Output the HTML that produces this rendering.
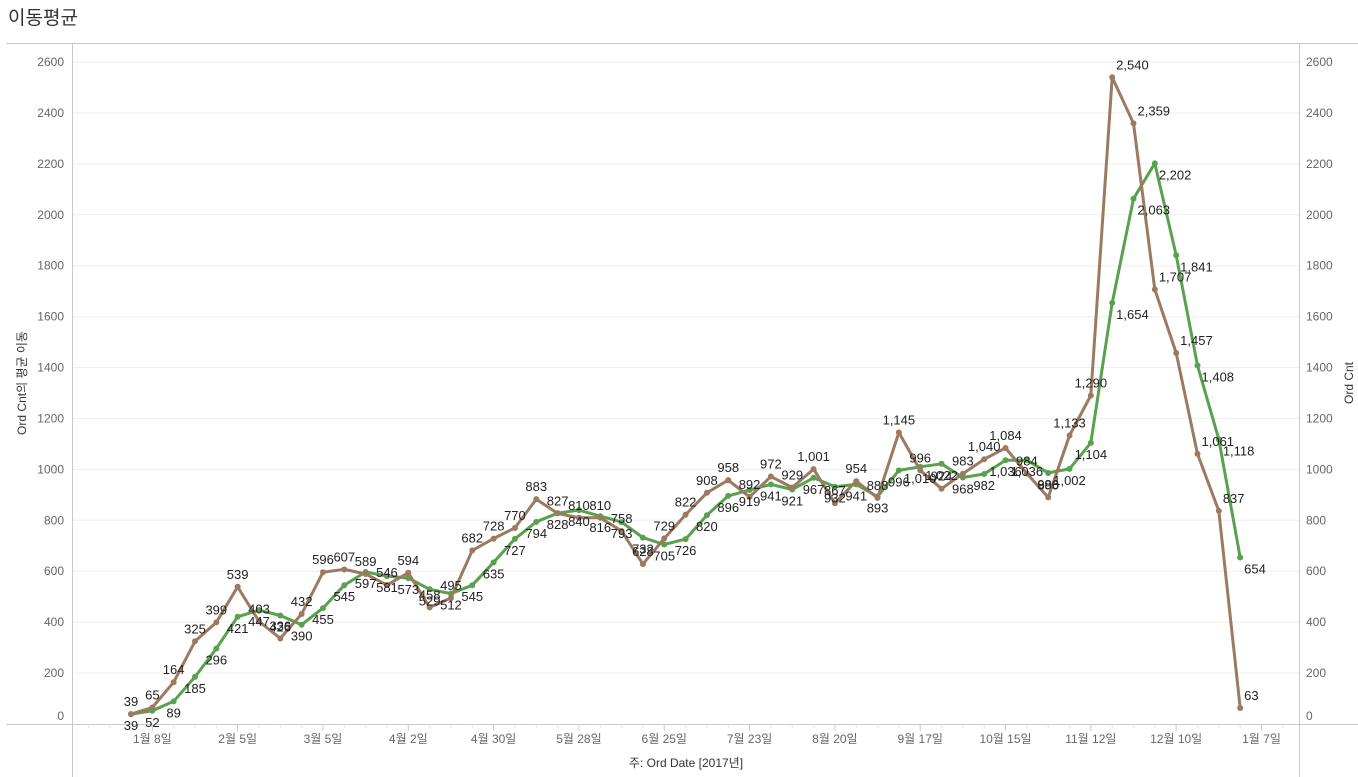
<!DOCTYPE html>
<html><head><meta charset="utf-8">
<style>
body{margin:0;background:#fff;}
svg{display:block;font-family:"Liberation Sans","Noto Sans CJK KR",sans-serif;}
</style></head>
<body>
<svg id="chart" width="1358" height="777">
<text x="8" y="24" font-size="19" fill="#333">이동평균</text>
<line x1="6" y1="43.5" x2="1358" y2="43.5" stroke="#c8c8c8"/>
<g id="grid"></g>
<g id="axes"></g>
<g id="series"></g>
<g id="labels"></g>
<text x="686" y="767" font-size="12" fill="#333" text-anchor="middle">주: Ord Date [2017년]</text>
<text transform="translate(26,383) rotate(-90)" font-size="12" fill="#333" text-anchor="middle">Ord Cnt의 평균 이동</text>
<text transform="translate(1353,383) rotate(-90)" font-size="12" fill="#333" text-anchor="middle">Ord Cnt</text>
</svg>
<script>
const weekCount = 53;
const ordCnt = [39,65,164,325,399,539,403,336,432,596,607,589,546,594,458,495,682,728,770,883,827,810,810,758,628,729,822,908,958,892,972,929,1001,867,954,888,1145,996,924,983,1040,1084,984,890,1133,1290,2540,2359,1707,1457,1061,837,63];
const movingAvg = [39,52,89,185,296,421,447,426,390,455,545,597,581,573,529,512,545,635,727,794,828,840,816,793,732,705,726,820,896,919,941,921,967,932,941,893,996,1010,1022,968,982,1036,1036,986,1002,1104,1654,2063,2202,1841,1408,1118,654];
const yTicks = [0,200,400,600,800,1000,1200,1400,1600,1800,2000,2200,2400,2600];
const xTickLabels = ["1월 8일","2월 5일","3월 5일","4월 2일","4월 30일","5월 28일","6월 25일","7월 23일","8월 20일","9월 17일","10월 15일","11월 12일","12월 10일","1월 7일"];
const xTickWeeks = [1,5,9,13,17,21,25,29,33,37,41,45,49,53];

const NS="http://www.w3.org/2000/svg";
const L=72,R=1299,Y0=724,YTOP=62,VMAX=2600;
function xs(i){return 131+i*21.33;}
function ys(v){return Y0-(v/VMAX)*(Y0-YTOP);}
function mk(tag,attrs,parent,text){const e=document.createElementNS(NS,tag);for(const k in attrs)e.setAttribute(k,attrs[k]);if(text!==undefined)e.textContent=text;parent.appendChild(e);return e;}
const grid=document.getElementById('grid'),axes=document.getElementById('axes'),series=document.getElementById('series'),labels=document.getElementById('labels');

yTicks.forEach(v=>{
  const y=ys(v);
  if(v>0){const g=mk('line',{x1:L,x2:R,y1:y,y2:y,stroke:'#efefef'},grid);
  
  }
  const ly = v===0? y-4 : y+4;
  const t1=mk('text',{x:64,y:ly,'font-size':12,fill:'#666','text-anchor':'end'},axes,String(v));
  
  
  const t2=mk('text',{x:1306,y:ly,'font-size':12,fill:'#666'},axes,String(v));
  
  
});
mk('line',{x1:L+.5,x2:L+.5,y1:44,y2:777,stroke:'#c8c8c8'},axes);
mk('line',{x1:R+.5,x2:R+.5,y1:44,y2:777,stroke:'#c8c8c8'},axes);
mk('line',{x1:6,x2:1358,y1:Y0+.5,y2:Y0+.5,stroke:'#c8c8c8'},axes);
for(let i=-2;i<=55;i++){const x=xs(i);if(x>L&&x<R)mk('line',{x1:x,x2:x,y1:Y0,y2:Y0+4,stroke:'#e2e2e2'},axes);}
xTickWeeks.forEach((w,k)=>{
  const x=xs(w);
  mk('line',{x1:x,x2:x,y1:Y0,y2:Y0+7,stroke:'#ccc'},axes);
  const t=mk('text',{x:x,y:743,'font-size':12,fill:'#666','text-anchor':'middle'},axes,xTickLabels[k]);
  
  
});

function drawSeries(vals,color,name,pos){
  const pts=vals.map((v,i)=>xs(i).toFixed(1)+','+ys(v).toFixed(1)).join(' ');
  const pl=mk('polyline',{points:pts,fill:'none',stroke:color,'stroke-width':3,'stroke-linejoin':'round'},series);
  
  
  vals.forEach((v,i)=>{
    const c=mk('circle',{cx:xs(i),cy:ys(v),r:3,fill:color},series);
    
    
    const dy = pos==='above' ? -8 : 16;
    const t=mk('text',{x:xs(i)+ (i>=46?4:0),y:ys(v)+dy,'font-size':13,fill:'#222','text-anchor':i>=46?'start':'middle'},labels,v.toLocaleString('en-US'));
    
    
  });
}
drawSeries(movingAvg,'#59a14f','moving-average','below');
drawSeries(ordCnt,'#9c7a62','ord-cnt','above');
</script>
</body></html>
